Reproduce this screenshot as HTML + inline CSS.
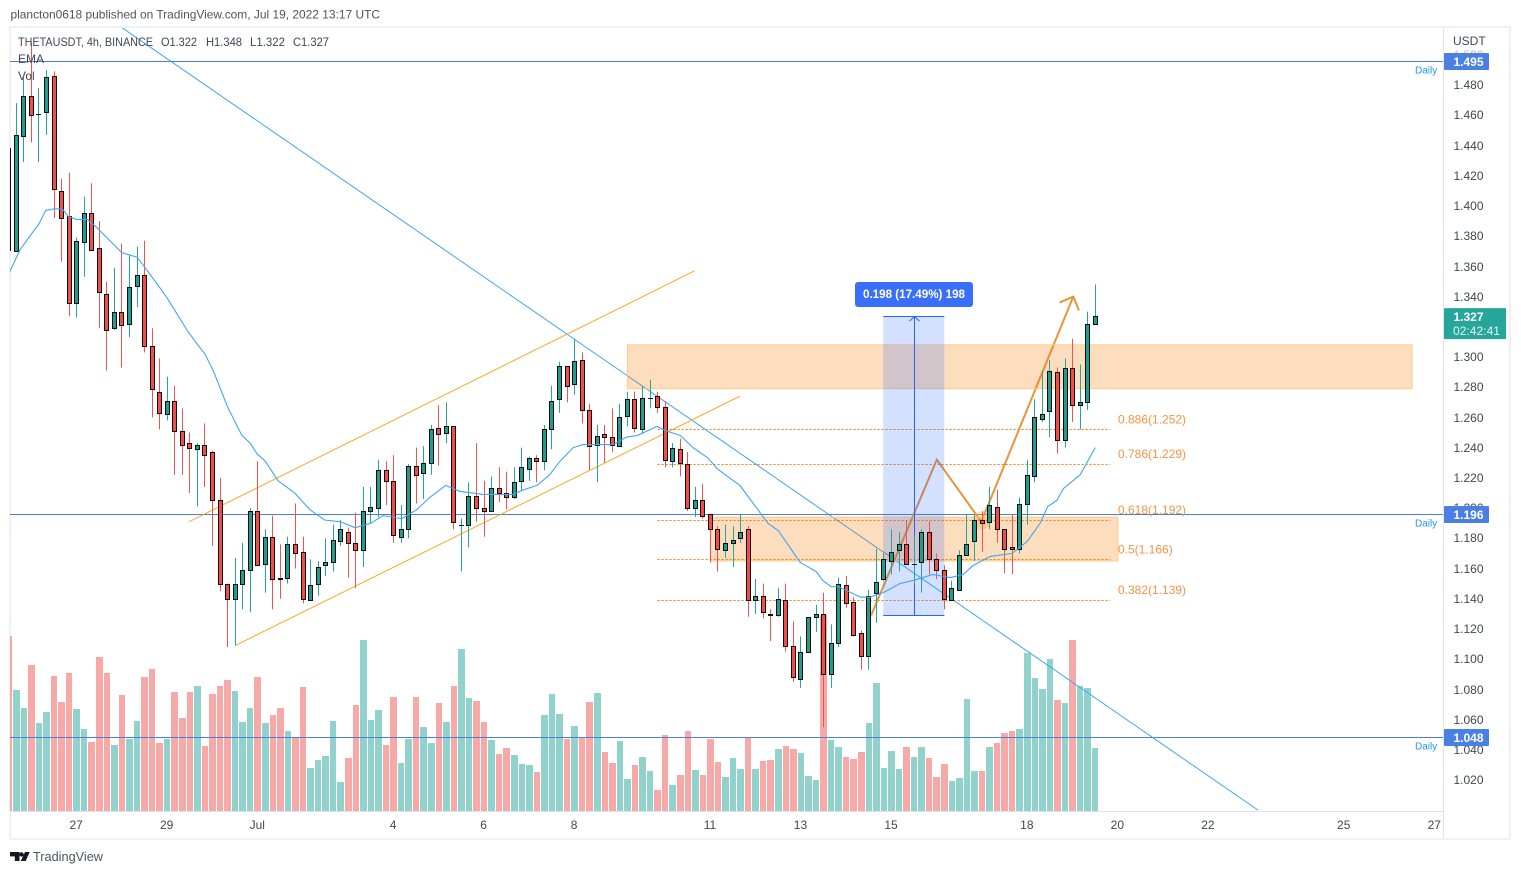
<!DOCTYPE html>
<html lang="en">
<head>
<meta charset="utf-8">
<title>THETAUSDT 4h chart</title>
<style>
html,body{margin:0;padding:0;background:#fff;width:1521px;height:874px;overflow:hidden}
svg{display:block;font-family:"Liberation Sans",sans-serif}
text{font-size:12px;fill:#434651}
</style>
</head>
<body>
<svg id="chart" xmlns="http://www.w3.org/2000/svg" width="1521" height="874" viewBox="0 0 1521 874">
  <defs>
    <clipPath id="pane"><rect x="10" y="28" width="1433.5" height="783.5"/></clipPath>
  </defs>
  <rect x="0" y="0" width="1521" height="874" fill="#ffffff"/>
  <text x="10.5" y="18.5" textLength="369.5" lengthAdjust="spacingAndGlyphs" style="fill:#50535e">plancton0618 published on TradingView.com, Jul 19, 2022 13:17 UTC</text>
  <rect x="10" y="27" width="1500" height="812" fill="none" stroke="#f0f1f6" stroke-width="2"/>

  <g id="pane-layer" clip-path="url(#pane)"></g>

  <line x1="10" x2="1443.5" y1="811.5" y2="811.5" stroke="#e0e3eb"/>
  <line x1="1443.5" x2="1443.5" y1="28" y2="838" stroke="#e0e3eb"/>

  <g id="axis-layer"></g>
  <g id="label-layer"></g>

  <g>
    <text x="18" y="46" textLength="135" lengthAdjust="spacingAndGlyphs">THETAUSDT, 4h, BINANCE</text>
    <text x="161" y="46" textLength="36" lengthAdjust="spacingAndGlyphs">O1.322</text>
    <text x="206" y="46" textLength="36" lengthAdjust="spacingAndGlyphs">H1.348</text>
    <text x="250" y="46" textLength="35" lengthAdjust="spacingAndGlyphs">L1.322</text>
    <text x="293" y="46" textLength="36" lengthAdjust="spacingAndGlyphs">C1.327</text>
    <text x="18" y="63">EMA</text>
    <text x="18" y="80">Vol</text>
  </g>

  <g>
    <path d="M10 852h9.5v9h-4.7v-4.6H10zM21.5 852.2a2.2 2.2 0 1 1 0 4.4a2.2 2.2 0 1 1 0-4.4zM25 852h4.7l-4 9h-4.9z" fill="#131722"/>
    <text x="33" y="861" textLength="70" lengthAdjust="spacingAndGlyphs" style="font-size:13px;fill:#50535e">TradingView</text>
  </g>
</svg>

<script>
// ---- chart data ----
const opens = [1.438,1.370,1.446,1.473,1.461,1.462,1.486,1.410,1.393,1.336,1.376,1.395,1.372,1.342,1.319,1.330,1.322,1.347,1.354,1.307,1.277,1.262,1.271,1.251,1.243,1.239,1.242,1.237,1.205,1.150,1.140,1.150,1.159,1.198,1.163,1.181,1.154,1.154,1.176,1.171,1.139,1.150,1.162,1.164,1.178,1.184,1.177,1.172,1.198,1.200,1.225,1.218,1.181,1.186,1.228,1.223,1.230,1.253,1.250,1.254,1.189,1.189,1.208,1.200,1.198,1.213,1.210,1.207,1.218,1.226,1.233,1.231,1.252,1.272,1.294,1.282,1.298,1.265,1.242,1.249,1.247,1.241,1.261,1.272,1.252,1.273,1.274,1.267,1.231,1.239,1.229,1.200,1.205,1.196,1.186,1.172,1.177,1.180,1.186,1.139,1.142,1.130,1.129,1.139,1.109,1.087,1.105,1.128,1.130,1.090,1.111,1.149,1.138,1.117,1.102,1.144,1.153,1.165,1.172,1.176,1.163,1.164,1.184,1.166,1.159,1.139,1.146,1.169,1.178,1.192,1.191,1.201,1.186,1.174,1.173,1.203,1.221,1.259,1.264,1.290,1.245,1.293,1.268,1.270,1.322];
const highs = [1.450,1.468,1.485,1.508,1.478,1.490,1.489,1.418,1.422,1.379,1.406,1.415,1.390,1.350,1.359,1.375,1.368,1.373,1.377,1.319,1.299,1.287,1.281,1.266,1.250,1.243,1.256,1.238,1.220,1.150,1.167,1.177,1.200,1.231,1.186,1.195,1.176,1.181,1.203,1.181,1.166,1.165,1.180,1.189,1.192,1.187,1.197,1.214,1.214,1.232,1.231,1.235,1.202,1.229,1.240,1.241,1.255,1.268,1.270,1.254,1.193,1.217,1.243,1.218,1.221,1.227,1.224,1.227,1.240,1.234,1.235,1.255,1.281,1.297,1.294,1.312,1.303,1.269,1.255,1.255,1.266,1.269,1.277,1.277,1.281,1.285,1.277,1.271,1.243,1.246,1.237,1.214,1.216,1.196,1.188,1.189,1.188,1.196,1.188,1.153,1.150,1.133,1.147,1.150,1.125,1.115,1.128,1.136,1.144,1.123,1.154,1.155,1.141,1.119,1.146,1.173,1.170,1.186,1.184,1.192,1.182,1.186,1.191,1.170,1.162,1.152,1.172,1.196,1.196,1.198,1.214,1.212,1.186,1.196,1.207,1.232,1.272,1.291,1.298,1.293,1.299,1.312,1.295,1.330,1.348];
const lows = [1.367,1.370,1.429,1.442,1.429,1.447,1.392,1.363,1.327,1.326,1.353,1.371,1.319,1.291,1.318,1.293,1.313,1.333,1.303,1.260,1.252,1.258,1.222,1.222,1.210,1.201,1.214,1.175,1.145,1.108,1.109,1.133,1.131,1.162,1.144,1.133,1.140,1.150,1.160,1.137,1.139,1.142,1.155,1.158,1.175,1.154,1.147,1.161,1.190,1.194,1.202,1.177,1.177,1.180,1.203,1.206,1.222,1.228,1.243,1.186,1.158,1.174,1.191,1.181,1.198,1.204,1.199,1.206,1.211,1.218,1.217,1.225,1.239,1.263,1.270,1.275,1.256,1.225,1.217,1.230,1.237,1.241,1.254,1.250,1.249,1.266,1.263,1.227,1.227,1.221,1.198,1.194,1.193,1.164,1.158,1.167,1.161,1.177,1.128,1.130,1.127,1.112,1.128,1.105,1.085,1.081,1.105,1.118,1.055,1.081,1.108,1.134,1.115,1.093,1.093,1.124,1.152,1.156,1.158,1.163,1.150,1.144,1.156,1.153,1.133,1.139,1.146,1.169,1.165,1.171,1.186,1.177,1.157,1.156,1.170,1.189,1.217,1.257,1.247,1.236,1.240,1.257,1.252,1.265,1.322];
const closes = [1.371,1.447,1.473,1.460,1.461,1.485,1.411,1.392,1.336,1.377,1.395,1.371,1.343,1.318,1.330,1.321,1.346,1.354,1.307,1.279,1.263,1.271,1.251,1.242,1.240,1.242,1.235,1.205,1.150,1.140,1.150,1.159,1.198,1.162,1.181,1.153,1.153,1.176,1.170,1.140,1.149,1.161,1.164,1.179,1.186,1.177,1.172,1.198,1.201,1.225,1.218,1.182,1.186,1.228,1.222,1.230,1.252,1.249,1.254,1.191,1.189,1.208,1.200,1.198,1.213,1.210,1.207,1.217,1.227,1.233,1.231,1.252,1.271,1.294,1.281,1.297,1.265,1.241,1.248,1.247,1.242,1.260,1.272,1.253,1.273,1.273,1.267,1.232,1.240,1.230,1.200,1.205,1.195,1.186,1.173,1.177,1.179,1.184,1.139,1.142,1.131,1.129,1.140,1.109,1.088,1.105,1.128,1.130,1.090,1.111,1.150,1.137,1.116,1.102,1.142,1.151,1.166,1.171,1.176,1.163,1.163,1.184,1.166,1.159,1.140,1.147,1.169,1.176,1.192,1.190,1.202,1.186,1.173,1.173,1.203,1.222,1.260,1.262,1.291,1.245,1.293,1.268,1.270,1.322,1.327];
const volumes = [175,121,103,146,88,99,135,109,138,102,82,69,154,138,66,116,72,90,134,142,68,72,119,93,119,125,65,117,125,131,120,89,103,134,88,96,103,80,74,124,43,51,55,90,29,53,106,171,91,101,66,114,48,72,114,84,68,108,89,125,162,113,110,89,71,57,63,56,47,46,39,96,117,97,72,85,74,109,118,59,48,70,32,46,54,40,21,76,26,36,80,41,36,72,49,34,53,42,74,42,50,51,62,65,62,58,35,31,196,71,64,54,52,59,88,128,43,60,42,64,54,64,53,34,47,30,33,112,40,40,64,68,78,80,82,158,133,122,152,111,108,171,125,123,63];
const emaBars = [0,1.5,3.1,4,4.9,6,7.1,7.9,9,10.4,11.4,13,15,17,17.8,20,21,23.6,24.9,26,27.1,29,30.9,32,32.9,34,35.7,37.9,39.9,41.9,43.9,45.9,48,49.6,52.1,54.1,55.8,57.9,59.8,62.9,66.8,68.2,70,71.7,72.9,74.8,76.1,80.1,81.9,83.3,85.9,87.2,89,90.7,92.7,93.9,96.9,100.6,102,104.9,107,107.9,109,109.9,111.2,112.9,114.1,115.9,118.1,119.8,122.5,124.8,126.5,127.8,130.1,133,135,136.7,137.7,138.9,139.8,142,144];
const emaValues = [1.355,1.371,1.382,1.388,1.397,1.398,1.398,1.393,1.391,1.391,1.387,1.379,1.369,1.366,1.361,1.346,1.339,1.318,1.309,1.302,1.291,1.267,1.248,1.243,1.236,1.231,1.218,1.210,1.199,1.192,1.191,1.187,1.190,1.195,1.193,1.199,1.207,1.215,1.211,1.209,1.209,1.212,1.215,1.222,1.230,1.240,1.242,1.242,1.247,1.248,1.254,1.251,1.248,1.240,1.233,1.226,1.215,1.190,1.185,1.164,1.158,1.152,1.148,1.148,1.145,1.141,1.141,1.144,1.150,1.152,1.156,1.154,1.156,1.162,1.168,1.170,1.178,1.190,1.201,1.205,1.213,1.222,1.240];
const priceTicks = ["1.500","1.480","1.460","1.440","1.420","1.400","1.380","1.360","1.340","1.320","1.300","1.280","1.260","1.240","1.220","1.200","1.180","1.160","1.140","1.120","1.100","1.080","1.060","1.040","1.020"];
const timeTickBars = [9,21,33,51,63,75,93,105,117,135,147,159,177,189];
const timeTickLabels = ["27","29","Jul","4","6","8","11","13","15","18","20","22","25","27"];
const dailyLevels = [1.4957,1.196,1.048];
const dailyLabels = ["1.495","1.196","1.048"];
const fibRatios = ["0.886","0.786","0.618","0.5","0.382"];
const fibPrices = [1.252,1.229,1.192,1.166,1.139];
const fibStartBar = 86;
const fibEndBar = 146;
const lastPrice = 1.327;
const downTrendBars = [15,165.6];
const downTrendPrices = [1.518,1.000];
const channelUpperBars = [23.9,90.9];
const channelUpperPrices = [1.191,1.357];
const channelLowerBars = [30,96.9];
const channelLowerPrices = [1.109,1.274];
const patternBars = [114.3,123,128.9,141.1];
const patternPrices = [1.129,1.232,1.191,1.340];
const upperZoneBars = [82,186];
const upperZonePrices = [1.308,1.279];
const lowerZoneBars = [93,147];
const lowerZonePrices = [1.194,1.165];
const measureBars = [115.9,124];
const measurePrices = [1.327,1.129];

// ---- axis functions ----
const xOf = function (bar) { return 8.75 + 7.545 * bar; };
const yOf = function (price) { return 85 + (1.48 - price) * 1510.9; };
const volHeight = function (v) { return v * 1; };

const NS = 'http://www.w3.org/2000/svg';
const pane = document.getElementById('pane-layer');
const axisLayer = document.getElementById('axis-layer');
const labelLayer = document.getElementById('label-layer');
function mk(tag, parent) {
  const e = document.createElementNS(NS, tag);
  parent.appendChild(e);
  return e;
}
function setA(e, attrs) {
  Object.keys(attrs).forEach(function (k) { e.setAttribute(k, attrs[k]); });
  return e;
}

// ---- volume ----
const volumeGroup = mk('g', pane);


volumes.forEach(function (v, i) {
  const left = Math.round(xOf(i) - 3.3);
  const right = Math.round(xOf(i + 1) - 3.3) - 1;
  const h = volHeight(v);
  const el = mk('rect', volumeGroup);
  
  
  setA(el, {x: left, y: 811 - h, width: right - left, height: h,
    fill: closes[i] >= opens[i] ? '#92d2cc' : '#f7a9a7'});
});

// ---- daily horizontal levels ----
dailyLevels.forEach(function (lv) {
  const y = Math.floor(yOf(lv)) + 0.5;
  const el = mk('line', pane);
  
  
  setA(el, {x1: 10, x2: 1443, y1: y, y2: y, stroke: '#4a7fe0', 'stroke-width': 1});
  const t = mk('text', pane);
  
  
  setA(t, {x: 1415, y: y + 12});
  t.setAttribute('style', 'font-size:10px;fill:#2196f3');
  t.textContent = 'Daily';
});

// ---- straight trend lines ----
function trend(bars, prices, color, width) {
  const el = mk('line', pane);
  setA(el, {x1: xOf(bars[0]), y1: yOf(prices[0]), x2: xOf(bars[1]), y2: yOf(prices[1]),
    stroke: color, 'stroke-width': width});
  return el;
}
const downTrend = trend(downTrendBars, downTrendPrices, '#42a5f5', 1);


const channelUpper = trend(channelUpperBars, channelUpperPrices, '#ffa726', 1);


const channelLower = trend(channelLowerBars, channelLowerPrices, '#ffa726', 1);



// ---- fib levels ----
fibPrices.forEach(function (p, i) {
  const y = Math.floor(yOf(p)) + 0.5;
  const el = mk('line', pane);
  
  
  setA(el, {x1: xOf(fibStartBar), x2: xOf(fibEndBar), y1: y, y2: y,
    stroke: '#f57c00', 'stroke-width': 1, 'stroke-dasharray': '2 2'});
  const t = mk('text', pane);
  
  
  setA(t, {x: 1118, y: yOf(p) - 6});
  t.setAttribute('style', 'font-size:12px;fill:#f39444');
  t.textContent = fibRatios[i] + '(' + p.toFixed(3) + ')';
});

// ---- orange price pattern ----
const patternPoints = patternBars.map(function (b, i) { return xOf(b) + ',' + yOf(patternPrices[i]); }).join(' ');
const pattern = mk('polyline', pane);


setA(pattern, {points: patternPoints, fill: 'none', stroke: '#ea9439', 'stroke-width': 2, 'stroke-linejoin': 'miter'});
const n = patternBars.length - 1;
const tipX = xOf(patternBars[n]);
const tipY = yOf(patternPrices[n]);
const backAng = Math.atan2(yOf(patternPrices[n - 1]) - tipY, xOf(patternBars[n - 1]) - tipX);
const arrowHead = mk('polyline', pane);


setA(arrowHead, {
  points: (tipX + 15 * Math.cos(backAng + 0.77)) + ',' + (tipY + 15 * Math.sin(backAng + 0.77)) + ' ' +
          tipX + ',' + tipY + ' ' +
          (tipX + 15 * Math.cos(backAng - 0.77)) + ',' + (tipY + 15 * Math.sin(backAng - 0.77)),
  fill: 'none', stroke: '#ea9439', 'stroke-width': 2});
const pivot = mk('circle', pane);


setA(pivot, {cx: xOf(patternBars[2]), cy: yOf(patternPrices[2]) - 1, r: 9, fill: '#ffa726', opacity: 0.3});

// ---- supply / demand zones ----
function zone(bars, prices) {
  const el = mk('rect', pane);
  setA(el, {x: xOf(bars[0]), y: yOf(prices[0]), width: xOf(bars[1]) - xOf(bars[0]),
    height: yOf(prices[1]) - yOf(prices[0]),
    fill: '#f57c00', 'fill-opacity': 0.26, stroke: '#ffcc80', 'stroke-width': 1});
  return el;
}
const upperZone = zone(upperZoneBars, upperZonePrices);


const lowerZone = zone(lowerZoneBars, lowerZonePrices);



// ---- price-range measure ----
const mx0 = xOf(measureBars[0]);
const mx1 = xOf(measureBars[1]);
const my0 = yOf(measurePrices[0]);
const my1 = yOf(measurePrices[1]);
const mxc = Math.ceil((mx0 + mx1) / 2) + 0.5;
const measureRect = mk('rect', pane);


setA(measureRect, {x: mx0, y: my0, width: mx1 - mx0, height: my1 - my0, fill: '#2962ff', 'fill-opacity': 0.2});
const measureTop = mk('line', pane);


setA(measureTop, {x1: mx0, x2: mx1, y1: Math.floor(my0) + 0.5, y2: Math.floor(my0) + 0.5, stroke: '#2962ff', 'stroke-width': 1});
const measureBottom = mk('line', pane);


setA(measureBottom, {x1: mx0, x2: mx1, y1: Math.floor(my1) + 0.5, y2: Math.floor(my1) + 0.5, stroke: '#2962ff', 'stroke-width': 1});
const measureAxis = mk('line', pane);


setA(measureAxis, {x1: mxc, x2: mxc, y1: my0, y2: my1, stroke: '#2962ff', 'stroke-width': 1});
const measureArrow = mk('polyline', pane);


setA(measureArrow, {points: (mxc - 5) + ',' + (my0 + 5) + ' ' + mxc + ',' + (my0 + 0.5) + ' ' + (mxc + 5) + ',' + (my0 + 5),
  fill: 'none', stroke: '#2962ff', 'stroke-width': 1});

// ---- candles ----
const candleGroup = mk('g', pane);


opens.forEach(function (o, i) {
  const c = closes[i];
  const up = c >= o;
  const px = Math.floor(xOf(i));
  const g = mk('g', candleGroup);
  
  
  const wick = mk('rect', g);
  
  
  setA(wick, {x: px, y: yOf(highs[i]), width: 1, height: Math.max(1, yOf(lows[i]) - yOf(highs[i])),
    fill: up ? '#26a69a' : '#ef5350'});
  const top = Math.round(yOf(Math.max(o, c)));
  const bot = Math.round(yOf(Math.min(o, c)));
  const body = mk('rect', g);
  
  
  if (bot - top < 1) {
    setA(body, {x: px - 2, y: top, width: 5, height: 1, fill: '#131722'});
  } else {
    setA(body, {x: px - 1.5, y: top + 0.5, width: 4, height: bot - top,
      fill: up ? '#1f9d8e' : '#f44c47', stroke: '#0b0b0b', 'stroke-width': 1});
  }
});

// ---- EMA ----
const emaPoints = emaBars.map(function (b, i) { return xOf(b) + ',' + yOf(emaValues[i]); }).join(' ');
const ema = mk('polyline', pane);


setA(ema, {points: emaPoints, fill: 'none', stroke: '#42a5f5', 'stroke-width': 1.1, 'stroke-linejoin': 'round'});

// ---- axes ----
const usdt = mk('text', axisLayer);


setA(usdt, {x: 1453, y: 45});
usdt.textContent = 'USDT';
priceTicks.forEach(function (t) {
  const el = mk('text', axisLayer);
  
  
  setA(el, {x: 1453.5, y: Math.round(yOf(parseFloat(t)) + 4.2)});
  el.textContent = t;
});
timeTickBars.forEach(function (b, i) {
  const el = mk('text', axisLayer);
  
  
  setA(el, {x: xOf(b) - 0.5, y: 829, 'text-anchor': 'middle'});
  el.textContent = timeTickLabels[i];
});

// ---- price axis tags ----
const fade = mk('rect', labelLayer);


setA(fade, {x: 1444, y: 48, width: 45, height: 6, fill: '#ffffff', opacity: 0.65});
dailyLevels.forEach(function (lv, i) {
  const y = Math.floor(yOf(lv));
  const box = mk('rect', labelLayer);
  
  
  setA(box, {x: 1444, y: y - 8, width: 45, height: 17, rx: 1, fill: '#4a80e4'});
  const t = mk('text', labelLayer);
  
  
  setA(t, {x: 1453.5, y: y + 5});
  t.setAttribute('style', 'font-size:12px;font-weight:bold;fill:#ffffff');
  t.textContent = dailyLabels[i];
});
const lastBox = mk('rect', labelLayer);


setA(lastBox, {x: 1444, y: yOf(lastPrice) - 8, width: 62, height: 31, rx: 1, fill: '#26a69a'});
const lastText = mk('text', labelLayer);


setA(lastText, {x: 1453.5, y: yOf(lastPrice) + 5});
lastText.setAttribute('style', 'font-size:12px;font-weight:bold;fill:#ffffff');
lastText.textContent = lastPrice.toFixed(3);
const countdown = mk('text', labelLayer);


setA(countdown, {x: 1453, y: yOf(lastPrice) + 19, textLength: 47, lengthAdjust: 'spacingAndGlyphs'});
countdown.setAttribute('style', 'font-size:12px;fill:#e6f5f3');
countdown.textContent = '02:42:41';

// ---- measure label ----
const mBox = mk('rect', labelLayer);


setA(mBox, {x: 855, y: 282, width: 118, height: 25, rx: 3, fill: '#3a6ffb'});
const mText = mk('text', labelLayer);


setA(mText, {x: 863, y: 298, textLength: 102, lengthAdjust: 'spacingAndGlyphs'});
mText.setAttribute('style', 'font-size:12px;font-weight:bold;fill:#ffffff');
mText.textContent = '0.198 (17.49%) 198';
</script>
</body>
</html>
